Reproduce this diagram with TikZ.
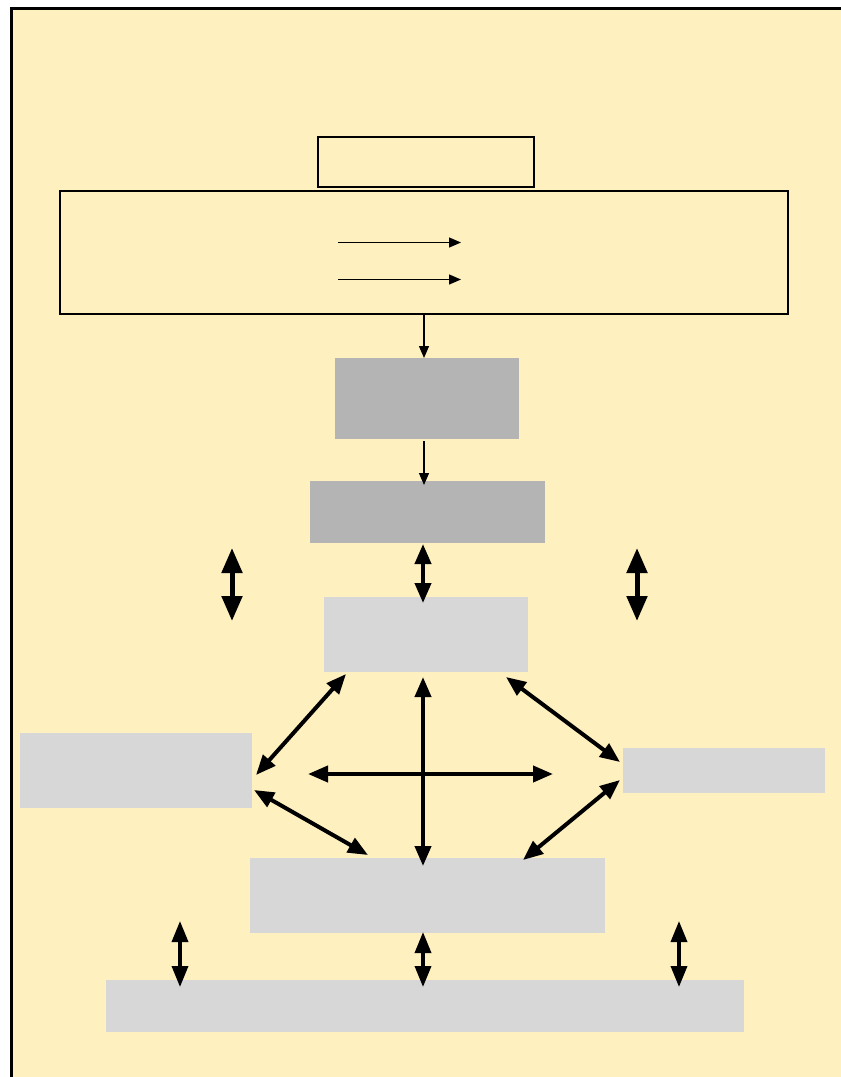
\documentclass[tikz,border=0pt]{standalone}
\usepackage{tikz}
\usetikzlibrary{arrows.meta}

\definecolor{paper}{RGB}{255,240,192}
\definecolor{darkbox}{RGB}{180,180,180}
\definecolor{lightbox}{RGB}{215,215,215}

\tikzset{
  outline/.style={draw,rectangle,inner sep=0pt,outer sep=0pt},
  dark/.style={fill=darkbox,rectangle,inner sep=0pt,outer sep=0pt},
  light/.style={fill=lightbox,rectangle,inner sep=0pt,outer sep=0pt},
  thinarrow/.style={-{Triangle[length=12pt,width=10pt]},line width=1.3pt},
  bigarrow/.style={{Triangle[length=20pt,width=16pt]}-{Triangle[length=20pt,width=16pt]},line width=4pt},
  fatarrow/.style={{Triangle[length=25pt,width=20pt]}-{Triangle[length=25pt,width=20pt]},line width=5pt},
  smallarrow/.style={{Triangle[length=21pt,width=16pt]}-{Triangle[length=21pt,width=16pt]},line width=3.5pt}
}

\begin{document}
\begin{tikzpicture}[x=1pt,y=-1pt]
\useasboundingbox (0,0) rectangle (841,1077);
\clip (0,0) rectangle (841,1077);
\fill [paper] (11.5,8.5) rectangle (860,1100);
\draw [line width=2.5pt] (11.5,1100) -- (11.5,8.5) -- (860,8.5);

% top part
\node [outline,line width=1.8pt,minimum width=216pt,minimum height=50pt] (title) at (426,162) {};
\node [outline,line width=1.5pt,minimum width=728pt,minimum height=123pt] (frame) at (424,252.5) {};
\coordinate (fa) at (338,242.5); \coordinate (fb) at (461,242.5);
\coordinate (fc) at (338,279.5); \coordinate (fd) at (461,279.5);
\draw [thinarrow] (fa) -- (fb);
\draw [thinarrow] (fc) -- (fd);

\node [dark,minimum width=184pt,minimum height=81pt] (stageA) at (427,398.5) {};
\node [dark,minimum width=235pt,minimum height=62pt] (stageB) at (427.5,512) {};
\draw [thinarrow] (frame.south) -- (frame.south |- stageA.north);
\draw [thinarrow] ([yshift=-2pt]frame.south |- stageA.south) -- ([yshift=-4pt]frame.south |- stageB.north);

% middle part
\node [light,minimum width=204pt,minimum height=75pt] (core) at (426,634.5) {};
\node [light,minimum width=232pt,minimum height=75pt] (left) at (136,770.5) {};
\node [light,minimum width=202pt,minimum height=45pt] (right) at (724,770.5) {};
\node [light,minimum width=355pt,minimum height=75pt] (lower) at (427.5,895.5) {};
\node [light,minimum width=638pt,minimum height=52pt] (base) at (425,1006) {};

\coordinate (lu) at (232,548); \coordinate (ld) at (232,621);
\coordinate (ru) at (637,548); \coordinate (rd) at (637,621);
\draw [fatarrow] (lu) -- (ld);
\draw [fatarrow] (ru) -- (rd);
\draw [bigarrow] ([xshift=-4.5pt,yshift=-1pt]stageB.south) -- ([xshift=-3pt,yshift=-6pt]core.north);

\draw [bigarrow] ([xshift=22pt,yshift=-2pt]core.south west) -- ([xshift=4pt,yshift=-4.5pt]left.east);
\draw [bigarrow] ([xshift=-22pt,yshift=-5pt]core.south east) -- ([xshift=-3pt,yshift=8.5pt]right.west);
\draw [bigarrow] ([xshift=2pt,yshift=-19.5pt]left.east) -- ([xshift=118pt,yshift=3pt]lower.north west);
\draw [bigarrow] ([xshift=-3pt,yshift=-9.5pt]right.west) -- ([xshift=-82pt,yshift=-2pt]lower.north east);
\draw [bigarrow] ([xshift=-3pt,yshift=-5pt]core.south) -- ([xshift=-4.5pt,yshift=-8pt]lower.north);
\coordinate (hl) at (308,774); \coordinate (hr) at (553,774);
\draw [bigarrow] (hl) -- (hr);

% bottom part
\coordinate (bl) at (180,921); \coordinate (bld) at (180,987);
\coordinate (br) at (679,921); \coordinate (brd) at (679,987);
\draw [smallarrow] (bl) -- (bld);
\draw [smallarrow] (br) -- (brd);
\draw [smallarrow] ([xshift=-4.5pt,yshift=1pt]lower.south) -- ([xshift=-2pt,yshift=-7pt]base.north);

\end{tikzpicture}
\end{document}
